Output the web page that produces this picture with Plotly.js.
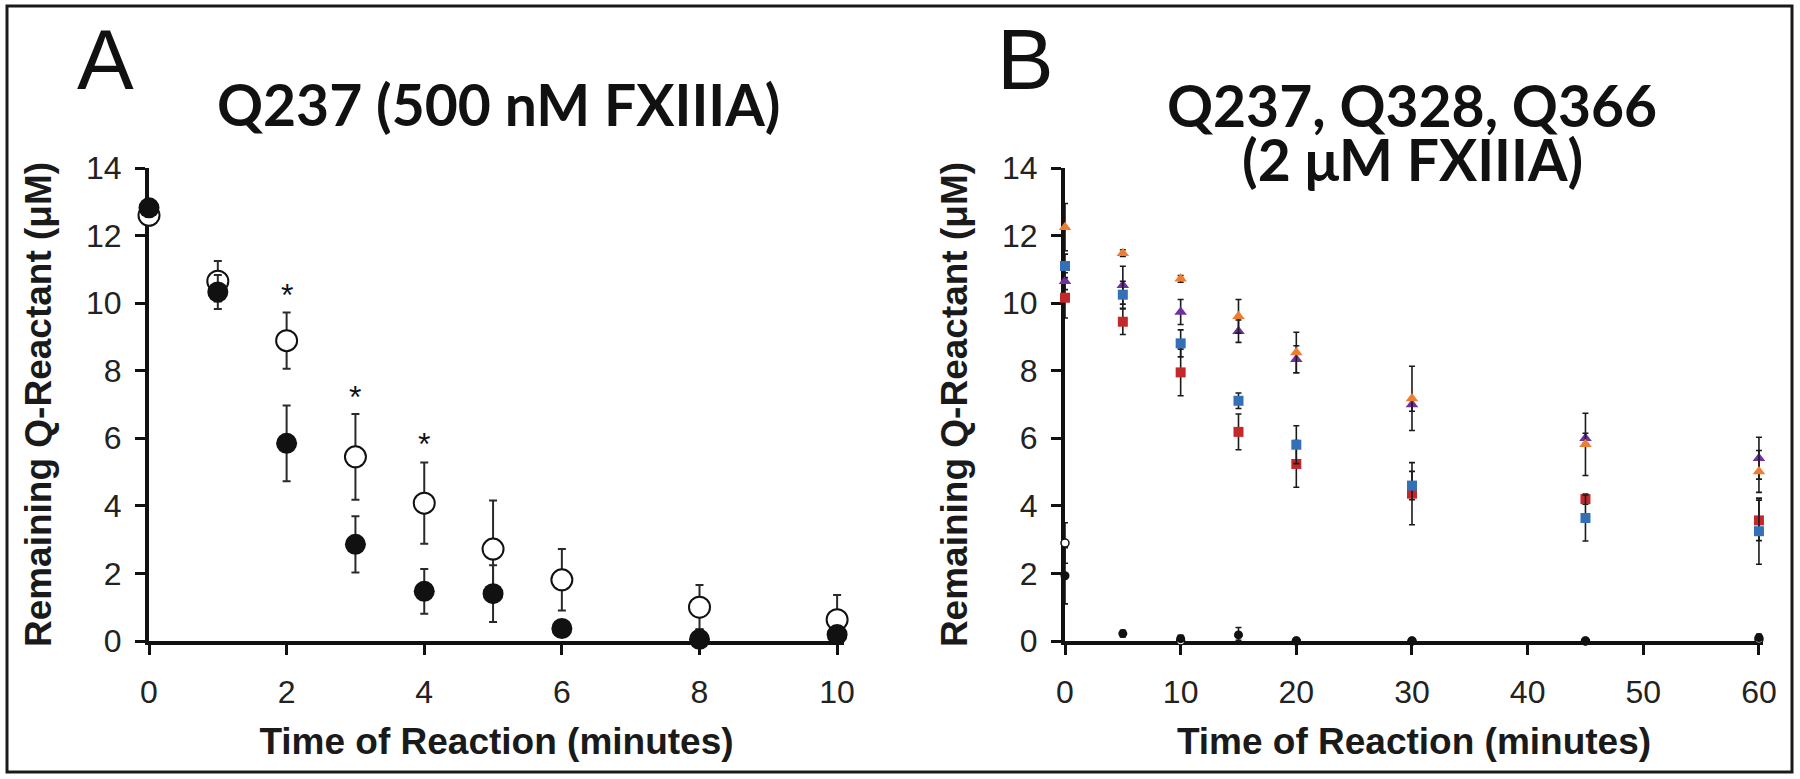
<!DOCTYPE html>
<html>
<head>
<meta charset="utf-8">
<script src="https://cdn.plot.ly/plotly-3.0.1.min.js"></script>
<style>
  html, body { margin: 0; padding: 0; background: #fff; }
  #chart { width: 1800px; height: 779px; }
</style>
</head>
<body>
<div id="chart"></div>
<script>
// Panel A: Q237 with 500 nM FXIIIA
const timeA = [0, 1, 2, 3, 4, 5, 6, 8, 10];
const openA = [12.6, 10.65, 8.89, 5.45, 4.08, 2.72, 1.81, 1.0, 0.63];
const openErrA = [0.25, 0.6, 0.83, 1.27, 1.2, 1.44, 0.91, 0.66, 0.73];
const filledA = [12.82, 10.33, 5.85, 2.86, 1.47, 1.40, 0.37, 0.05, 0.19];
const filledErrA = [0.2, 0.5, 1.12, 0.83, 0.66, 0.84, 0.2, 0.3, 0.15];
const starX = [2, 3, 4];
const starY = [10.47, 7.46, 6.07];
const ticksA = [0, 2, 4, 6, 8, 10];

// Panel B: Q237, Q328, Q366 with 2 uM FXIIIA
const timeB = [0, 5, 10, 15, 20, 30, 45, 60];
const orangeB = [12.25, 11.48, 10.72, 9.61, 8.54, 7.18, 5.82, 5.02];
const orangeErrB = [0.7, 0.1, 0.1, 0.5, 0.6, 0.95, 0.92, 0.62];
const purpleB = [10.65, 10.53, 9.74, 9.17, 8.34, 7.0, 6.0, 5.41];
const purpleErrB = [0.25, 0.56, 0.37, 0.33, 0.4, 0.2, 0.15, 0.62];
const blueB = [11.10, 10.25, 8.81, 7.11, 5.81, 4.6, 3.64, 3.25];
const blueErrB = [0.35, 0.4, 0.4, 0.23, 0.56, 0.42, 0.68, 0.98];
const redB = [10.16, 9.45, 7.95, 6.19, 5.24, 4.36, 4.2, 3.57];
const redErrB = [0.6, 0.38, 0.69, 0.53, 0.69, 0.92, 0.15, 0.6];
const openB = [2.9, -0.08, 0.0, -0.08, 0.0, 0.0, 0.0, 0.05];
const openErrB = [0.6, 0.05, 0.05, 0.1, 0.05, 0.05, 0.05, 0.05];
const filledB = [1.93, 0.22, 0.07, 0.18, 0.0, 0.0, 0.0, 0.1];
const filledErrB = [0.83, 0.1, 0.1, 0.22, 0.05, 0.05, 0.05, 0.1];
const ticksB = [0, 10, 20, 30, 40, 50, 60];
const ticksY = [0, 2, 4, 6, 8, 10, 12, 14];

const W = 1800, H = 779;
const px = v => v / W;
const py = v => 1 - v / H;

function errA(arr) {
    return { type: 'data', array: arr, visible: true, color: '#2a2a2a', thickness: 2, width: 4 };
}
function errB(arr) {
    return { type: 'data', array: arr, visible: true, color: '#1a1a1a', thickness: 1.6, width: 3 };
}
function pts(x, y, err, marker, xa, ya) {
    return { x: x, y: y, error_y: err, type: 'scatter', mode: 'markers',
             marker: marker, xaxis: xa, yaxis: ya, cliponaxis: false,
             showlegend: false, hoverinfo: 'x+y' };
}

const data = [
    pts(timeA, openA, errA(openErrA),
        { symbol: 'circle', size: 21, color: '#fff', line: { color: '#111', width: 2 } }, 'x', 'y'),
    pts(timeA, filledA, errA(filledErrA),
        { symbol: 'circle', size: 21, color: '#111', line: { width: 0 } }, 'x', 'y'),

    pts(timeB, openB, errB(openErrB),
        { symbol: 'circle', size: 8, color: '#fff', line: { color: '#111', width: 1.5 } }, 'x2', 'y2'),
    pts(timeB, filledB, errB(filledErrB),
        { symbol: 'circle', size: 9, color: '#111', line: { width: 0 } }, 'x2', 'y2'),
    pts(timeB, redB, errB(redErrB),
        { symbol: 'square', size: 10, color: '#c4282b', line: { width: 0 } }, 'x2', 'y2'),
    pts(timeB, purpleB, errB(purpleErrB),
        { symbol: 'triangle-up', size: 11, color: '#7030a0', line: { width: 0 } }, 'x2', 'y2'),
    pts(timeB, blueB, errB(blueErrB),
        { symbol: 'square', size: 10, color: '#3470b8', line: { width: 0 } }, 'x2', 'y2'),
    pts(timeB, orangeB, errB(orangeErrB),
        { symbol: 'triangle-up', size: 11, color: '#ed7d31', line: { width: 0 } }, 'x2', 'y2')
];

const sans = 'Liberation Sans, Arial, sans-serif';
const tickFont = { family: sans, size: 32, color: '#222' };
const axTitleFont = { family: sans, size: 37, color: '#1a1a1a', weight: 'bold' };

function xAxis(domain, range, vals, yref) {
    return { domain: domain, range: range, tickvals: vals, anchor: yref, layer: 'below traces',
             showline: true, linewidth: 4, linecolor: '#111', zeroline: false, showgrid: false,
             ticks: 'outside', ticklen: 10, tickwidth: 3, tickcolor: '#111', tickfont: tickFont,
             ticklabelstandoff: 10,
             title: { text: 'Time of Reaction (minutes)', font: axTitleFont, standoff: 20 } };
}
function yAxis(domain, xref) {
    return { domain: domain, range: [0, 14], tickvals: ticksY, anchor: xref, layer: 'below traces',
             showline: true, linewidth: 4, linecolor: '#111', zeroline: false, showgrid: false,
             ticks: 'outside', ticklen: 10, tickwidth: 3, tickcolor: '#111', tickfont: tickFont,
             ticklabelstandoff: 7,
             title: { text: 'Remaining Q-Reactant (μM)', font: axTitleFont, standoff: 24 } };
}

const yDom = [py(641), py(168)];
const titleFont = { family: 'Lato, sans-serif', size: 57, color: '#111', weight: 'bold' };
const letterFont = { family: sans, size: 85, color: '#111' };

const layout = {
    width: W, height: H,
    margin: { l: 0, r: 0, t: 0, b: 0 },
    paper_bgcolor: '#fff', plot_bgcolor: 'rgba(0,0,0,0)',
    xaxis: xAxis([px(149), px(844)], [0, 10.1], ticksA, 'y'),
    yaxis: yAxis(yDom, 'x'),
    xaxis2: xAxis([px(1065), px(1763)], [0, 60.35], ticksB, 'y2'),
    yaxis2: yAxis(yDom, 'x2'),
    shapes: [
        { type: 'rect', xref: 'paper', yref: 'paper',
          x0: px(7), x1: px(1792), y0: py(772), y1: py(6),
          line: { color: '#1a1a1a', width: 3 } }
    ],
    annotations: [
        { text: 'A', xref: 'paper', yref: 'paper', x: px(75), y: py(59), xanchor: 'left', yanchor: 'middle',
          showarrow: false, font: letterFont },
        { text: 'B', xref: 'paper', yref: 'paper', x: px(995), y: py(59), xanchor: 'left', yanchor: 'middle',
          showarrow: false, font: letterFont },
        { text: 'Q237 (500 nM FXIIIA)', xref: 'paper', yref: 'paper', x: px(499), y: py(104),
          xanchor: 'center', yanchor: 'middle', showarrow: false, font: titleFont },
        { text: 'Q237, Q328, Q366', xref: 'paper', yref: 'paper', x: px(1412), y: py(105),
          xanchor: 'center', yanchor: 'middle', showarrow: false, font: titleFont },
        { text: '(2 μM FXIIIA)', xref: 'paper', yref: 'paper', x: px(1412), y: py(159),
          xanchor: 'center', yanchor: 'middle', showarrow: false, font: titleFont }
    ].concat(starX.map((sx, i) => ({
        text: '*', xref: 'x', yref: 'y', x: sx, y: starY[i], yshift: -8,
        showarrow: false, font: { family: sans, size: 32, color: '#111' }
    })))
};

Plotly.newPlot('chart', data, layout, { staticPlot: true });
</script>
</body>
</html>
